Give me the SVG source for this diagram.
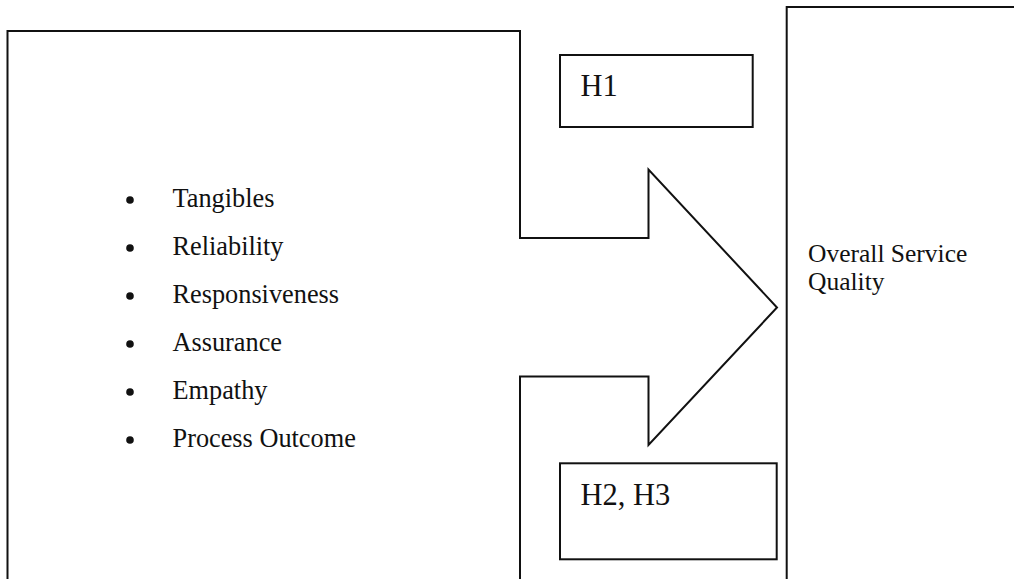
<svg xmlns="http://www.w3.org/2000/svg" width="1014" height="579" viewBox="0 0 1014 579">
<style>
.ln{fill:none;stroke:#111;stroke-width:2;stroke-linejoin:miter}
.t{font-family:"Liberation Serif","Times New Roman",serif;fill:#111}
.b{font-size:26.3px}
.o{font-size:25.5px}
.h{font-size:30.5px}
.dot{fill:#111}
</style>
<rect width="1014" height="579" fill="#fff"/>
<g id="factors">
<path class="ln" d="M7.5 590 V31 H520 V238 H648.5 V169.5 L777 307.5 L648.5 445 V376.5 H520 V590"/>
<circle class="dot" cx="130" cy="200" r="3.8"/>
<circle class="dot" cx="130" cy="248" r="3.8"/>
<circle class="dot" cx="130" cy="296" r="3.8"/>
<circle class="dot" cx="130" cy="344" r="3.8"/>
<circle class="dot" cx="130" cy="392" r="3.8"/>
<circle class="dot" cx="130" cy="440" r="3.8"/>
<text class="t b" x="172.5" y="207">Tangibles</text>
<text class="t b" x="172.5" y="255">Reliability</text>
<text class="t b" x="172.5" y="303">Responsiveness</text>
<text class="t b" x="172.5" y="351">Assurance</text>
<text class="t b" x="172.5" y="399">Empathy</text>
<text class="t b" x="172.5" y="447">Process Outcome</text>
</g>
<g id="overall">
<path class="ln" d="M786.7 590 V7 H1020"/>
<text class="t o" x="808" y="262">Overall Service</text>
<text class="t o" x="808" y="290">Quality</text>
</g>
<g id="h1">
<rect class="ln" x="560" y="55" width="192.7" height="72"/>
<text class="t h" x="580.5" y="96">H1</text>
</g>
<g id="h23">
<rect class="ln" x="560" y="463.3" width="216.7" height="96"/>
<text class="t h" x="580.5" y="505">H2, H3</text>
</g>
<g id="connectors"></g>
</svg>
